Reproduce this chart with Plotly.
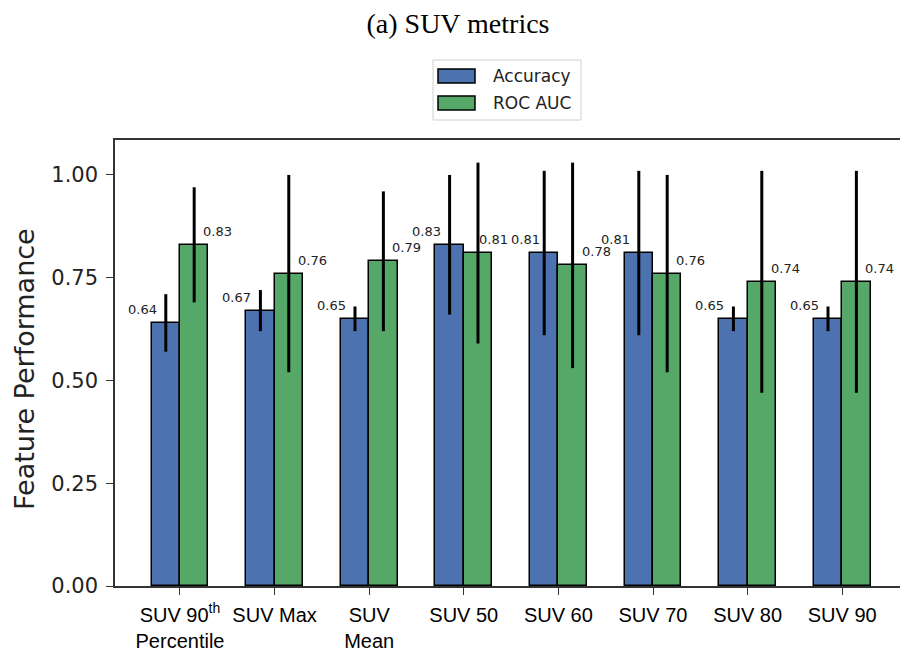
import plotly.graph_objects as go

# --- data -------------------------------------------------------------
features = ["SUV 90<sup>th</sup><br>Percentile", "SUV Max", "SUV<br>Mean",
            "SUV 50", "SUV 60", "SUV 70", "SUV 80", "SUV 90"]
accuracy = [0.64, 0.67, 0.65, 0.83, 0.81, 0.81, 0.65, 0.65]
accuracy_err = [0.07, 0.05, 0.03, 0.17, 0.20, 0.20, 0.03, 0.03]
roc_auc = [0.83, 0.76, 0.79, 0.81, 0.78, 0.76, 0.74, 0.74]
roc_auc_err = [0.14, 0.24, 0.17, 0.22, 0.25, 0.24, 0.27, 0.27]
y_ticks = [0.0, 0.25, 0.5, 0.75, 1.0]

BLUE = "#4c72b0"
GREEN = "#55a868"
W, H = 900, 653
L, R, T, B = 115, 0, 140, 67
BAR_W = 0.3

# small pixel nudges so neighbouring value labels do not collide
acc_label_nudge = {4: 5}
roc_label_nudge = {3: -8}

pos = list(range(len(features)))

fig = go.Figure()
fig.add_trace(go.Bar(
    x=pos, y=accuracy, width=BAR_W, offset=-BAR_W, name="Accuracy",
    marker=dict(color=BLUE, line=dict(color="black", width=1.5)),
    error_y=dict(type="data", array=accuracy_err, visible=True,
                 color="black", thickness=3, width=0),
    showlegend=False,
))
fig.add_trace(go.Bar(
    x=pos, y=roc_auc, width=BAR_W, offset=0, name="ROC AUC",
    marker=dict(color=GREEN, line=dict(color="black", width=1.5)),
    error_y=dict(type="data", array=roc_auc_err, visible=True,
                 color="black", thickness=3, width=0),
    showlegend=False,
))

# value labels beside each bar top
label_font = dict(family="DejaVu Sans", size=13, color="#222")
annotations = []
for i, (a, r) in enumerate(zip(accuracy, roc_auc)):
    annotations.append(dict(x=i - 0.224, y=a + 0.033, xref="x", yref="y",
                            text=f"{a:.2f}", showarrow=False,
                            xanchor="right", yanchor="middle",
                            xshift=acc_label_nudge.get(i, 0), font=label_font))
    annotations.append(dict(x=i + 0.224, y=r + 0.033, xref="x", yref="y",
                            text=f"{r:.2f}", showarrow=False,
                            xanchor="left", yanchor="middle",
                            xshift=roc_label_nudge.get(i, 0), font=label_font))

pw, ph = W - L - R, H - T - B


def px_x(p):
    return (p - L) / pw


def px_y(p):
    return (H - B - p) / ph


# y-axis title
annotations.append(dict(x=px_x(24), y=px_y(369), xref="paper", yref="paper",
                        text="Feature Performance", textangle=-90, showarrow=False,
                        xanchor="center", yanchor="middle",
                        font=dict(family="DejaVu Sans", size=27, color="#222")))

# legend drawn as a framed box with patches
shapes = [
    dict(type="rect", xref="paper", yref="paper",
         x0=px_x(433), x1=px_x(581), y0=px_y(60), y1=px_y(120),
         line=dict(color="#d0d0d0", width=1), fillcolor="white"),
]
for (y0, y1, col, label, ty) in [(69, 83, BLUE, "Accuracy", 76),
                                 (96, 110, GREEN, "ROC AUC", 103)]:
    shapes.append(dict(type="rect", xref="paper", yref="paper",
                       x0=px_x(438), x1=px_x(475), y0=px_y(y0), y1=px_y(y1),
                       line=dict(color="black", width=1.5), fillcolor=col))
    annotations.append(dict(x=px_x(491), y=px_y(ty), xref="paper", yref="paper",
                            text=label, showarrow=False,
                            xanchor="left", yanchor="middle",
                            font=dict(family="DejaVu Sans", size=17, color="#222")))

fig.update_layout(
    width=W, height=H,
    margin=dict(l=L, r=R, t=T, b=B, pad=0, autoexpand=False),
    paper_bgcolor="white", plot_bgcolor="white",
    title=dict(text="(a) SUV metrics", x=458 / W, xanchor="center",
               y=1 - 23 / H, yanchor="middle",
               font=dict(family="Liberation Serif", size=28, color="black")),
    annotations=annotations,
    shapes=shapes,
    bargap=0,
)
fig.update_xaxes(
    range=[-0.687, 7.611],
    tickvals=pos, ticktext=features, tickangle=0, automargin=False,
    showline=True, linecolor="#333", linewidth=1.5, mirror=True,
    ticks="outside", ticklen=7, tickwidth=1.2, tickcolor="#333",
    ticklabelstandoff=3,
    showgrid=False, zeroline=False,
    tickfont=dict(family="Liberation Sans Narrow, Liberation Sans, sans-serif",
                  size=20, color="black"),
)
fig.update_yaxes(
    range=[0, 1.085],
    tickvals=y_ticks, tickformat=".2f", automargin=False,
    showline=True, linecolor="#333", linewidth=1.5, mirror=False,
    ticks="outside", ticklen=7, tickwidth=1.2, tickcolor="#333",
    ticklabelstandoff=4,
    showgrid=False, zeroline=False,
    tickfont=dict(family="DejaVu Sans", size=21, color="#222"),
)

fig.write_html("out.html")
